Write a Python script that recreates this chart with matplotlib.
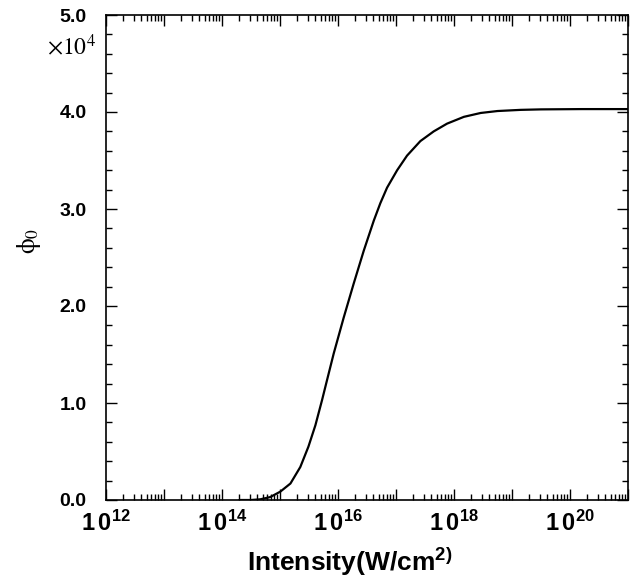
import numpy as np
import matplotlib
matplotlib.use("Agg")
import matplotlib.pyplot as plt
from matplotlib.ticker import FixedLocator, FuncFormatter, LogLocator, MultipleLocator, NullFormatter

plt.rcParams['mathtext.fontset'] = 'custom'
plt.rcParams['mathtext.rm'] = 'Liberation Sans:bold'
plt.rcParams['mathtext.it'] = 'Liberation Sans:bold'
plt.rcParams['mathtext.bf'] = 'Liberation Sans:bold'

# log10 of intensity (W/cm^2)
log_intensity = [14.30, 14.50, 14.66, 14.83, 15.005, 15.18, 15.35, 15.49, 15.61, 15.725,
                 15.80, 15.926, 16.098, 16.27, 16.444, 16.617, 16.73, 16.846, 17.02,
                 17.19, 17.42, 17.65, 17.88, 18.17, 18.46, 18.75, 19.15, 19.50,
                 20.20, 21.00]
# phi_0 in units of 1e4
phi0 = [0.0, 0.0, 0.007, 0.03, 0.086, 0.17, 0.34, 0.55, 0.77, 1.03,
        1.21, 1.51, 1.88, 2.23, 2.57, 2.88, 3.06, 3.22, 3.40,
        3.55, 3.70, 3.80, 3.88, 3.95, 3.99, 4.01, 4.022, 4.027,
        4.03, 4.03]

yticks = [0.0, 1.0, 2.0, 3.0, 4.0, 5.0]
xdecades = list(range(12, 22))

intensity = [10.0 ** v for v in log_intensity]

fig = plt.figure(figsize=(6.31, 5.81), dpi=100)
ax = fig.add_axes([106 / 631, 1 - 500 / 581, (628 - 106) / 631, (500 - 15) / 581])
ax.plot(intensity, phi0, color='black', lw=1.6, solid_capstyle='round',
        solid_joinstyle='round')
ax.set_xscale('log')
ax.set_xlim(1e12, 1e21)
ax.set_ylim(0, 5.0)

ax.xaxis.set_major_locator(FixedLocator([10.0 ** d for d in xdecades]))
ax.xaxis.set_minor_locator(LogLocator(base=10, subs=np.arange(2, 10), numticks=100))
ax.xaxis.set_minor_formatter(NullFormatter())

def xfmt(v, pos):
    e = int(round(np.log10(v)))
    if e % 2 == 0 and e <= 20:
        return r'$1\,0^{%d}$' % e
    return ''

ax.xaxis.set_major_formatter(FuncFormatter(xfmt))
ax.yaxis.set_major_locator(FixedLocator(yticks))
ax.yaxis.set_minor_locator(MultipleLocator(0.2))
ax.yaxis.set_major_formatter(FuncFormatter(lambda v, p: '%.1f' % v))

ax.tick_params(which='both', direction='in', top=True, right=True, width=1.0)
ax.tick_params(which='major', length=8)
ax.tick_params(which='minor', length=4)
ax.tick_params(axis='x', which='major', labelsize=17, pad=8)
ax.tick_params(axis='y', which='major', labelsize=14, pad=14)
for lab in ax.get_yticklabels():
    lab.set_fontfamily('Liberation Sans')
    lab.set_fontweight('bold')
for s in ax.spines.values():
    s.set_linewidth(1.2)

fig.text(350 / 631, 1 - 562 / 581, r'Intensity(W/cm$^{2)}$', fontsize=19,
         fontweight='bold', fontfamily='Liberation Sans', ha='center', va='center')
fig.text(29 / 631, 1 - 241 / 581, r'$\mathrm{\phi}_0$', fontsize=18,
         math_fontfamily='stix', rotation=90, ha='center', va='center')
fig.text(47 / 631, 1 - 47 / 581, r'$\times10^{4}$', fontsize=17, math_fontfamily='stix',
         ha='left', va='center')

fig.savefig('out.png', dpi=100)
